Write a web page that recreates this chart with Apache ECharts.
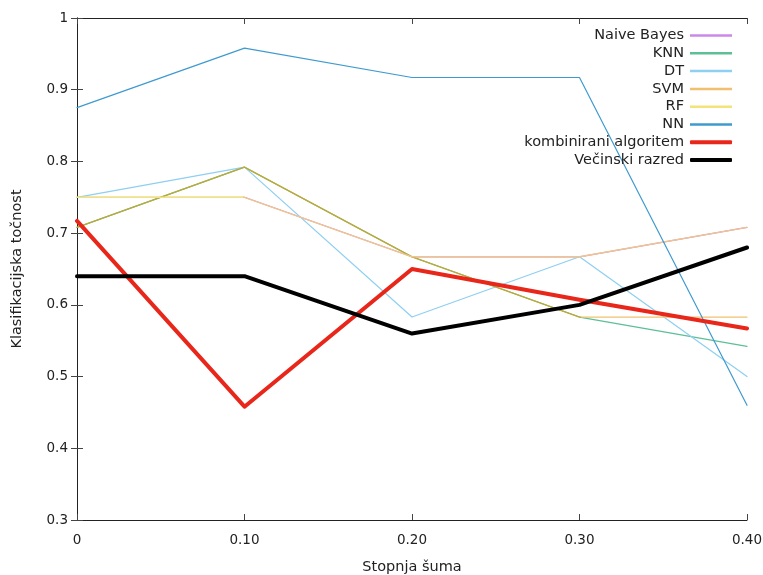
<!DOCTYPE html>
<html><head><meta charset="utf-8">
<script src="https://cdn.jsdelivr.net/npm/echarts@6/dist/echarts.min.js"></script>
<style>html,body{margin:0;padding:0;background:#fff}#c{width:763px;height:575px}</style>
</head><body><div id="c"></div>
<script>
const noise = [0, 0.1, 0.2, 0.3, 0.4];
const xTickLabels = ['0', '0.10', '0.20', '0.30', '0.40'];
const naiveBayes = [0.75, 0.75, 0.667, 0.667, 0.708];
const knn = [0.708, 0.792, 0.667, 0.583, 0.542];
const dt = [0.75, 0.792, 0.583, 0.667, 0.5];
const svm = [0.708, 0.792, 0.667, 0.583, 0.583];
const rf = [0.75, 0.75, 0.667, 0.667, 0.708];
const nn = [0.875, 0.958, 0.917, 0.917, 0.46];
const combined = [0.717, 0.458, 0.65, 0.607, 0.567];
const majority = [0.64, 0.64, 0.56, 0.60, 0.68];

function grad(c1, c2, at) {
  return new echarts.graphic.LinearGradient(0, 0, 1, 0, [
    {offset: 0, color: c1}, {offset: at, color: c1},
    {offset: at, color: c2}, {offset: 1, color: c2}
  ]);
}
const seriesDefs = [
  {name: 'Naive Bayes', data: naiveBayes, color: '#cc88e8', w: 1.2},
  {name: 'KNN', data: knn, color: '#5cbf97', w: 1.2},
  {name: 'DT', data: dt, color: '#8ecff2', w: 1.2},
  {name: 'SVM', data: svm, color: '#f0c070', w: 1.3, line: grad('#bfa835', '#f0c070', 0.75)},
  {name: 'RF', data: rf, color: '#f2e47a', w: 1.4, line: grad('#f2e47a', '#eec58c', 0.25)},
  {name: 'NN', data: nn, color: '#3f9ad0', w: 1.2},
  {name: 'kombinirani algoritem', data: combined, color: '#e8261a', w: 4},
  {name: 'Večinski razred', data: majority, color: '#000000', w: 4}
];
const font = 'DejaVu Sans';
const chart = echarts.init(document.getElementById('c'));
const legends = seriesDefs.map((s, i) => ({
  data: [{name: s.name, itemStyle: {color: s.color}}],
  right: 31, top: 28 + i * 17.8, align: 'right', orient: 'vertical',
  icon: s.w > 2 ? 'roundRect' : 'rect', itemWidth: 42, itemHeight: s.w > 2 ? 4 : 2.5,
  itemGap: 4, selectedMode: false, padding: 0,
  textStyle: {fontFamily: font, fontSize: 14.5, color: '#222', padding: [0, 1, 0, 0]}
}));
const axisLineStyle = {color: '#222', width: 1};
const tickStyle = {show: true, inside: true, length: 6, lineStyle: {color: '#444', width: 1}};
chart.setOption({
  animation: false,
  backgroundColor: '#fff',
  grid: {left: 77, right: 16, top: 18, bottom: 55, containLabel: false, outerBoundsMode: 'none'},
  legend: legends,
  xAxis: [{
    type: 'value', min: 0, max: 0.4, interval: 0.1,
    name: 'Stopnja šuma', nameLocation: 'middle', nameGap: 40,
    nameTextStyle: {fontFamily: font, fontSize: 14.5, color: '#222'},
    axisLine: {show: true, lineStyle: axisLineStyle},
    axisTick: tickStyle,
    axisLabel: {fontFamily: font, fontSize: 13.5, color: '#222', margin: 13,
      formatter: (v) => { const i = noise.findIndex(n => Math.abs(n - v) < 1e-9); return i >= 0 ? xTickLabels[i] : ''; }},
    splitLine: {show: false}
  }, {
    type: 'value', position: 'top', min: 0, max: 0.4, interval: 0.1,
    axisLine: {show: true, lineStyle: axisLineStyle},
    axisTick: tickStyle,
    axisLabel: {show: false}, splitLine: {show: false}
  }],
  yAxis: [{
    type: 'value', min: 0.3, max: 1, interval: 0.1,
    name: 'Klasifikacijska točnost', nameLocation: 'middle', nameGap: 52,
    nameTextStyle: {fontFamily: font, fontSize: 14.5, color: '#222'},
    axisLine: {show: true, lineStyle: axisLineStyle},
    axisTick: tickStyle,
    axisLabel: {fontFamily: font, fontSize: 13.5, color: '#222', margin: 9,
      formatter: (v) => Math.abs(v - 1) < 1e-9 ? '1' : v.toFixed(1)},
    splitLine: {show: false}
  }, {
    type: 'value', position: 'right', min: 0.3, max: 1, interval: 0.1,
    axisLine: {show: true, lineStyle: axisLineStyle},
    axisTick: tickStyle,
    axisLabel: {show: false}, splitLine: {show: false}
  }],
  series: seriesDefs.map(s => ({
    name: s.name, type: 'line', showSymbol: false, symbol: 'none',
    data: s.data.map((v, i) => [noise[i], v]),
    lineStyle: {color: s.line || s.color, width: s.w, cap: 'round', join: 'round'},
    itemStyle: {color: s.color},
    emphasis: {disabled: true}
  }))
});
</script></body></html>
